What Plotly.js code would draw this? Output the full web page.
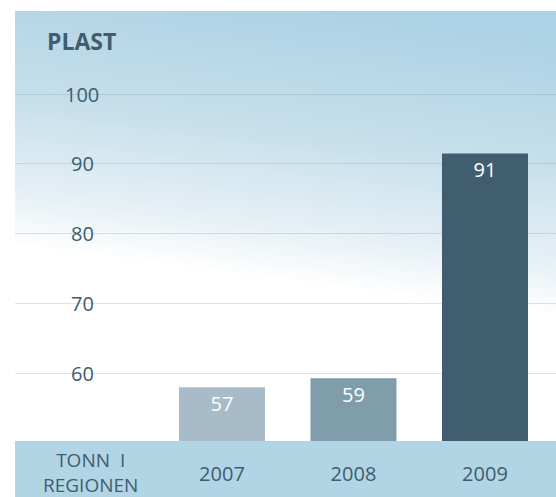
<!DOCTYPE html>
<html>
<head>
<meta charset="utf-8">
<script src="https://cdn.plot.ly/plotly-3.0.1.min.js"></script>
<style>html,body{margin:0;padding:0;background:#fff;}#chart{width:556px;height:497px;}</style>
</head>
<body>
<div id="chart"></div>
<script>
// ---- data ----
const categories = ['2007', '2008', '2009'];
const values = [58.0, 59.3, 91.5];
const labels = ['57', '59', '91'];
const barColors = ['#a7bcc8', '#809dab', '#405e6f'];
const yTicks = [60, 70, 80, 90, 100];
const unitLabel = 'TONN\u00a0 I<br>REGIONEN';
const chartTitle = 'PLAST';

const textColor = '#3f5d6e';
const fontFamily = '"Open Sans", "Noto Sans", sans-serif';

const W = 556, H = 497;
const margin = {l: 15, r: 0, t: 11, b: 56};
const plotW = W - margin.l - margin.r;
const plotH = H - margin.t - margin.b;

const svg = "<svg xmlns='http://www.w3.org/2000/svg' width='541' height='430' viewBox='0 0 541 430' preserveAspectRatio='none'>" +
  "<defs><linearGradient id='g' gradientUnits='userSpaceOnUse' x1='300' y1='0' x2='265' y2='270'>" +
  "<stop offset='0' stop-color='#aed2e5'/><stop offset='0.45' stop-color='#c6dfeb'/>" +
  "<stop offset='0.8' stop-color='#e6f0f5'/><stop offset='1' stop-color='#ffffff'/>" +
  "</linearGradient></defs><rect width='541' height='430' fill='url(#g)'/></svg>";
const bgSrc = 'data:image/svg+xml;charset=utf-8,' + encodeURIComponent(svg);

const trace = {
  type: 'bar',
  x: categories,
  y: values,
  text: labels,
  textposition: 'inside',
  insidetextanchor: 'end',
  textangle: 0,
  textfont: {family: fontFamily, size: 20, color: '#ffffff'},
  marker: {color: barColors, line: {width: 0}},
  width: 0.654,
  hoverinfo: 'skip',
  cliponaxis: false
};

const yLabelAnnotations = yTicks.map(v => ({
  x: (82 - margin.l) / plotW, xref: 'paper',
  y: v, yref: 'y',
  text: String(v),
  showarrow: false,
  xanchor: 'center', yanchor: 'middle',
  font: {family: fontFamily, size: 20, color: textColor}
}));

const layout = {
  width: W, height: H,
  margin: margin,
  paper_bgcolor: '#ffffff',
  plot_bgcolor: 'rgba(0,0,0,0)',
  showlegend: false,
  title: {
    text: '<b>' + chartTitle + '</b>',
    xref: 'container', yref: 'container',
    x: 47 / W, xanchor: 'left',
    y: 1 - 42 / H, yanchor: 'middle',
    font: {family: fontFamily, size: 23, color: textColor}
  },
  xaxis: {
    type: 'category',
    range: [-1.574, 2.54],
    showgrid: false, zeroline: false, showline: false,
    ticks: '',
    ticklabelstandoff: 19,
    tickfont: {family: fontFamily, size: 20, color: textColor},
    fixedrange: true
  },
  yaxis: {
    range: [50.3, 111.9],
    tickvals: yTicks,
    showticklabels: false,
    showgrid: true,
    gridcolor: 'rgba(90,125,140,0.2)',
    gridwidth: 1,
    zeroline: false, showline: false, ticks: '',
    fixedrange: true
  },
  images: [{
    source: bgSrc,
    xref: 'paper', yref: 'paper',
    x: 0, y: 1, sizex: 1, sizey: 1,
    xanchor: 'left', yanchor: 'top',
    sizing: 'stretch', layer: 'below'
  }],
  shapes: [{
    type: 'rect', xref: 'paper', yref: 'paper',
    x0: 0, x1: 1, y0: -margin.b / plotH, y1: 0,
    fillcolor: '#b2d5e6', line: {width: 0}, layer: 'below'
  }],
  annotations: yLabelAnnotations.concat([{
    x: -1, xref: 'x',
    y: -31 / plotH, yref: 'paper',
    text: unitLabel,
    showarrow: false,
    xanchor: 'center', yanchor: 'middle',
    align: 'center',
    font: {family: fontFamily, size: 19, color: textColor}
  }])
};

Plotly.newPlot('chart', [trace], layout, {displayModeBar: false, staticPlot: true});
</script>
</body>
</html>
